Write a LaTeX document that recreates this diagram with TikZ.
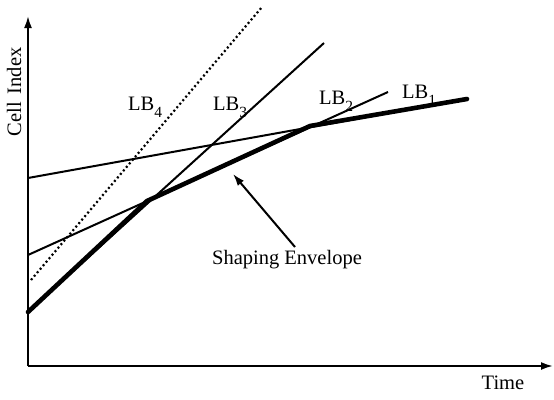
\documentclass[tikz,border=0pt]{standalone}
\usepackage{fontspec}
\setmainfont{Liberation Serif}
\usetikzlibrary{arrows.meta}
\newcommand{\lbl}[1]{LB\raisebox{-7pt}{\fontsize{15.5}{15.5}\selectfont #1}}
\begin{document}
\begin{tikzpicture}[x=1pt,y=-1pt,
  thinln/.style={line width=2pt},
  thickln/.style={line width=4.6pt, line cap=round},
  axis/.style={line width=2pt,-{Latex[length=12pt,width=8pt]}},
  lab/.style={font=\fontsize{20.5}{24}\selectfont, inner sep=0pt},
  pointer/.style={line width=2pt,-{Latex[length=12pt,width=8pt]}}]
\useasboundingbox (0,0) rectangle (554,399);
% coordinates
\coordinate (O) at (28,366);
\coordinate (Ytop) at (28,16);
\coordinate (Xend) at (553,366);
\coordinate (L1a) at (28,178);
\coordinate (L1b) at (467,99);
\coordinate (L2a) at (28,255);
\coordinate (L2b) at (388,92);
\coordinate (L3a) at (28,312);
\coordinate (L3b) at (324,43);
\coordinate (L4a) at (31,280);
\coordinate (L4b) at (262,7);
\coordinate (P32) at (147,201);
\coordinate (P21) at (310,126);
% axes
\draw[axis] (O) -- (Ytop);
\draw[axis] (O) -- (Xend);
% lines
\draw[thinln] (L1a) -- (L1b);
\draw[thinln] (L2a) -- (L2b);
\draw[thinln] (L3a) -- (L3b);
\draw[line width=2.2pt, dash pattern=on 2pt off 2.6pt] (L4a) -- (L4b);
% envelope
\draw[thickln, line join=round] (L3a) -- (P32) -- (P21) -- (L1b);
% labels
\node[lab, anchor=base west] (lb4) at (128,110) {\lbl{4}};
\node[lab, anchor=base west] (lb3) at (213,110) {\lbl{3}};
\node[lab, anchor=base west] (lb2) at (319,104) {\lbl{2}};
\node[lab, anchor=base west] (lb1) at (402,98) {\lbl{1}};
\node[lab, rotate=90] (yl) at (14,92) {Cell\hspace{8pt}Index};
\node[lab] (xl) at (503,383) {Time};
\node[lab] (env) at (287,260) {Shaping Envelope};
\coordinate (arrS) at (295,247);
\coordinate (arrT) at (233,174);
\draw[pointer] (arrS) -- (arrT);
\end{tikzpicture}
\end{document}
